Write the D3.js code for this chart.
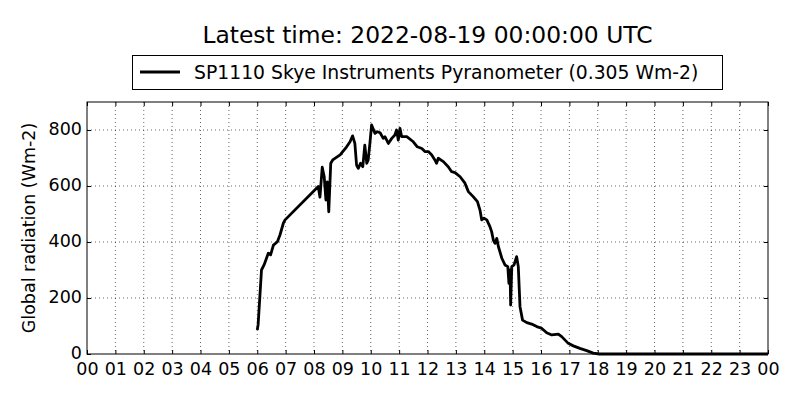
<!DOCTYPE html>
<html lang="en">
<head>
    <meta charset="UTF-8">
    <title>Global radiation</title>
    <script src="https://d3js.org/d3.v7.min.js"></script>
    <style>
        body { margin: 0; background: #fff; }
        svg text { font-family: "DejaVu Sans", sans-serif; fill: #000; }
    </style>
</head>
<body>
    <svg width="800" height="400"></svg>
    <script>
        // hours since midnight (UTC) and radiation (Wm-2)
        const hours = [6.00, 6.03, 6.15, 6.24, 6.39, 6.47, 6.57, 6.71, 6.80, 6.92, 6.98,
            8.15, 8.21, 8.29, 8.36, 8.42, 8.47, 8.52, 8.59, 8.66, 8.92, 9.15, 9.27, 9.36,
            9.44, 9.50, 9.56, 9.64, 9.72, 9.79, 9.86, 9.91, 9.97, 10.03, 10.15, 10.23, 10.33,
            10.44, 10.50, 10.62, 10.74, 10.85, 10.91, 10.97, 11.03, 11.09, 11.27, 11.50, 11.64,
            11.80, 11.91, 12.03, 12.15, 12.26, 12.32, 12.38, 12.56, 12.73, 12.85, 12.97, 13.15,
            13.32, 13.44, 13.61, 13.76, 13.85, 13.91, 13.99, 14.09, 14.20, 14.26, 14.32, 14.38,
            14.44, 14.50, 14.62, 14.73, 14.83, 14.87, 14.91, 14.93, 14.97, 15.05, 15.14, 15.20,
            15.26, 15.35, 15.50, 15.67, 15.85, 16.02, 16.20, 16.38, 16.61, 16.73, 16.96, 17.14,
            17.37, 17.61, 17.84, 18.05, 20.0, 22.0, 24.0];
        const radiation = [86, 104, 300, 318, 360, 354, 389, 401, 425, 467, 479,
            598, 560, 667, 633, 550, 615, 508, 681, 693, 711, 740, 758, 779,
            752, 675, 663, 681, 669, 746, 681, 693, 752, 818, 788, 794, 790,
            770, 776, 752, 770, 782, 800, 764, 806, 776, 776, 758, 740,
            734, 723, 723, 711, 693, 681, 699, 687, 669, 651, 648, 633,
            610, 580, 562, 544, 514, 479, 485, 479, 455, 437, 407, 395,
            413, 383, 342, 318, 312, 252, 300, 175, 312, 318, 348, 312,
            169, 121, 112, 107, 98, 92, 76, 68, 71, 62, 38, 29,
            20, 12, 3, 0, 0, 0, 0];
        const tickHours = d3.range(0, 25);
        const yTicks = [0, 200, 400, 600, 800];

        const svg = d3.select("svg");
        const plotL = 87, plotR = 768, plotT = 102, plotB = 354;

        const x = d3.scaleLinear().domain([0, 24]).range([plotL, plotR]);
        const y = d3.scaleLinear().domain([0, 900]).range([plotB, plotT]);

        // dotted grid
        svg.append("g").selectAll("line")
            .data(tickHours.slice(1, -1))
            .enter().append("line")
            .attr("x1", d => x(d)).attr("x2", d => x(d))
            .attr("y1", plotT).attr("y2", plotB)
            .attr("stroke", "#000").attr("stroke-width", 0.6)
            .attr("stroke-dasharray", "1,3");
        svg.append("g").selectAll("line")
            .data(yTicks.slice(1))
            .enter().append("line")
            .attr("x1", plotL).attr("x2", plotR)
            .attr("y1", d => y(d)).attr("y2", d => y(d))
            .attr("stroke", "#000").attr("stroke-width", 0.6)
            .attr("stroke-dasharray", "1,3");

        // data line
        const line = d3.line()
            .x((d, i) => x(hours[i]))
            .y(d => y(d));
        svg.append("path")
            .datum(radiation)
            .attr("d", line)
            .attr("fill", "none")
            .attr("stroke", "#000")
            .attr("stroke-width", 2.8)
            .attr("stroke-linejoin", "round");

        // axes, ticks pointing inwards on all four sides
        const fmt = d => String(d % 24).padStart(2, "0");
        svg.append("g")
            .attr("transform", `translate(0,${plotB})`)
            .call(d3.axisBottom(x).tickValues(tickHours).tickFormat(fmt).tickSizeInner(-4).tickSizeOuter(0).tickPadding(9));
        svg.append("g")
            .attr("transform", `translate(0,${plotT})`)
            .call(d3.axisTop(x).tickValues(tickHours).tickFormat("").tickSizeInner(-4).tickSizeOuter(0));
        const yAxis = svg.append("g")
            .attr("transform", `translate(${plotL},0)`)
            .call(d3.axisLeft(y).tickValues(yTicks).tickSizeInner(-4).tickSizeOuter(0).tickPadding(5));
        yAxis.selectAll(".tick text").attr("dy", "0.25em");
        svg.append("g")
            .attr("transform", `translate(${plotR},0)`)
            .call(d3.axisRight(y).tickValues(yTicks).tickFormat("").tickSizeInner(-4).tickSizeOuter(0));
        svg.selectAll(".domain").remove();
        svg.selectAll(".tick text").attr("font-size", 17.5).attr("font-family", "DejaVu Sans, sans-serif");
        svg.selectAll(".tick line").attr("stroke-width", 1);

        svg.append("rect")
            .attr("x", plotL).attr("y", plotT)
            .attr("width", plotR - plotL).attr("height", plotB - plotT)
            .attr("fill", "none").attr("stroke", "#000").attr("stroke-width", 1);

        // labels
        svg.append("text")
            .attr("x", (plotL + plotR) / 2).attr("y", 43)
            .attr("text-anchor", "middle").attr("font-size", 23.4)
            .text("Latest time: 2022-08-19 00:00:00 UTC");

        svg.append("text")
            .attr("transform", `translate(35,${(plotT + plotB) / 2}) rotate(-90)`)
            .attr("text-anchor", "middle").attr("font-size", 17.5)
            .text("Global radiation (Wm-2)");

        // legend
        const legend = svg.append("g");
        legend.append("rect")
            .attr("x", 132.5).attr("y", 55.5).attr("width", 590).attr("height", 34)
            .attr("fill", "#fff").attr("stroke", "#000").attr("stroke-width", 1);
        legend.append("line")
            .attr("x1", 140).attr("x2", 180).attr("y1", 72).attr("y2", 72)
            .attr("stroke", "#000").attr("stroke-width", 2.8);
        legend.append("text")
            .attr("x", 194).attr("y", 79).attr("font-size", 18.8)
            .text("SP1110 Skye Instruments Pyranometer (0.305 Wm-2)");
    </script>
</body>
</html>
